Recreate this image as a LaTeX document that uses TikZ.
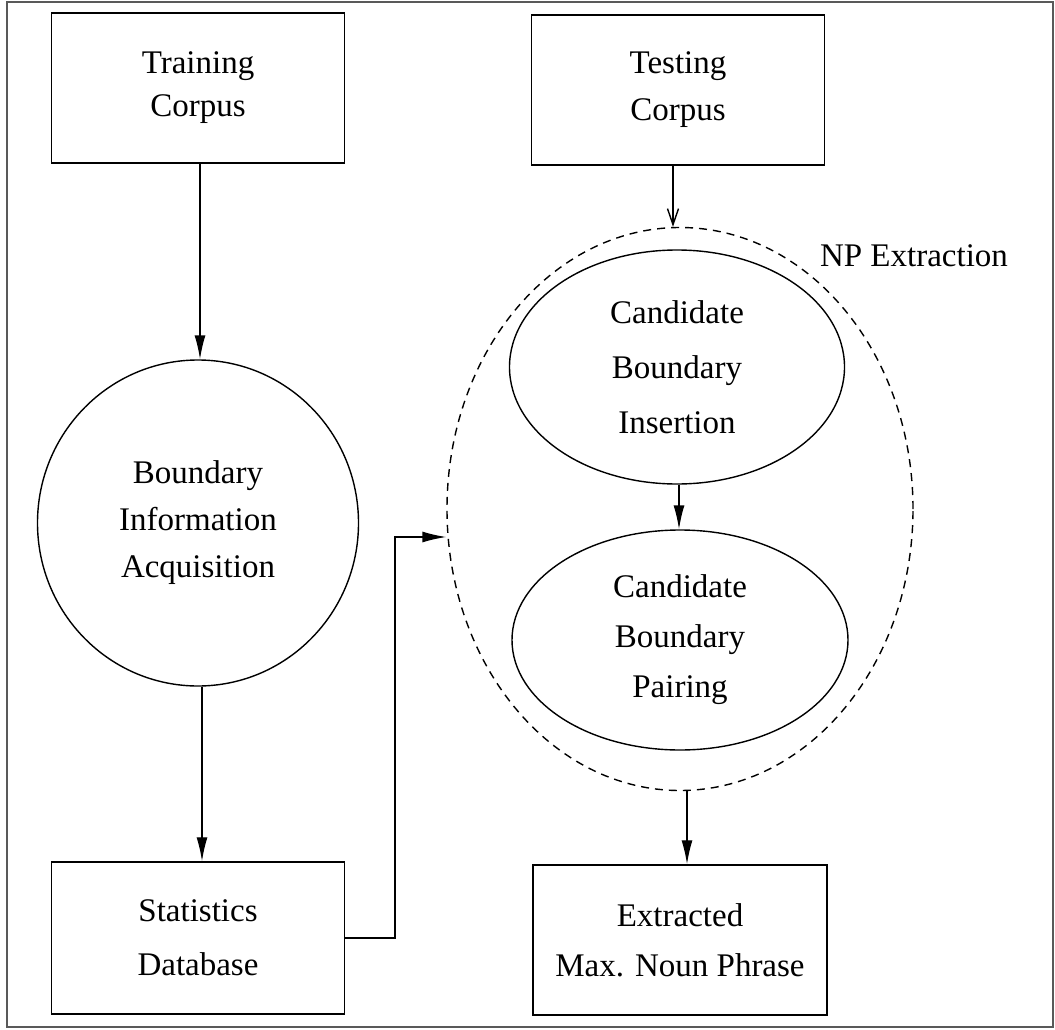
\documentclass[tikz,border=0pt]{standalone}
\usepackage{fontspec}
\setmainfont{Liberation Serif}
\usetikzlibrary{arrows,arrows.meta,shapes,positioning,calc}

\begin{document}
\begin{tikzpicture}[x=1pt,y=-1pt]
      \tikzstyle{every node}=[font=\fontsize{33}{47}\selectfont, align=center, inner sep=0pt]
      \tikzstyle{box}=[draw, line width=1.5pt, minimum width=293pt, minimum height=150pt]
      \tikzstyle{blob}=[draw, ellipse, line width=1.4pt]
      \tikzstyle{flow}=[-{Latex[length=24pt,width=11pt]}, line width=1.4pt]

      \useasboundingbox (0,0) rectangle (1055,1030);
      \draw[line width=1.6pt, black!65] (7,2) rectangle (1053,1027);

      \node[box, font=\fontsize{33}{43}\selectfont] (train) at (198,88) {Training\\Corpus};
      \node[box, font=\fontsize{33}{47}\selectfont] (test) at (678,90) {Testing\\Corpus};
      \node[blob, minimum width=321pt, minimum height=326pt] (acq) at (198,523) {Boundary\\Information\\Acquisition};
      \node[box, font=\fontsize{33}{54}\selectfont, minimum height=152pt] (stat) at (198,938) {Statistics\\Database};
      \node[box, font=\fontsize{33}{50}\selectfont, minimum width=294pt] (maxnp) at (680,940) {Extracted\\Max. Noun Phrase};

      \node[blob, dashed, dash pattern=on 8pt off 6pt, minimum width=466pt, minimum height=563pt] (npx) at (680,509) {};
      \node[blob, font=\fontsize{33}{55}\selectfont, minimum width=335pt, minimum height=234pt] (cbi) at (677,367) {Candidate\\Boundary\\Insertion};
      \node[blob, font=\fontsize{33}{50}\selectfont, minimum width=336pt, minimum height=220pt] (cbp) at (680,640) {Candidate\\Boundary\\Pairing};
      \node (nplabel) at (914,256) {NP Extraction};

      \coordinate (bend) at (395,537);

      \draw[flow] (train.south -| 200,0) -- (acq.north -| 200,0);
      \draw[flow] (acq.south -| 202,0) -- (stat.north -| 202,0);
      \draw[-{Straight Barb[length=16pt,width=11pt]}, line width=1.4pt] ([xshift=-5pt]test.south) -- ([xshift=-5pt]test.south |- npx.north);
      \draw[flow] (cbi.south -| 679,0) -- (cbp.north -| 679,0);
      \draw[flow] (npx.south -| 687,0) -- (maxnp.north -| 687,0);
      \draw[flow] (stat.east) -| (bend) -- (bend -| npx.west);
\end{tikzpicture}
\end{document}
